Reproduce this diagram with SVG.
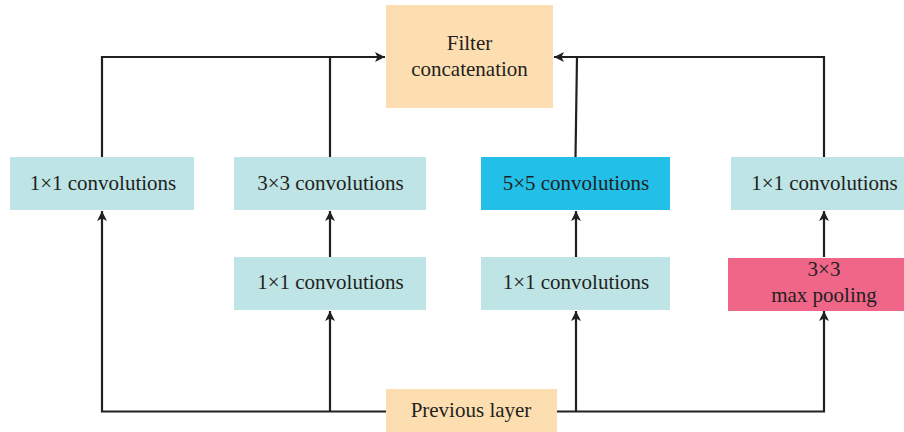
<svg xmlns="http://www.w3.org/2000/svg" width="904" height="432" viewBox="0 0 904 432">
<style>
.lbl{font-family:"Liberation Serif","Times New Roman",serif;font-size:21px;fill:#231F20;text-anchor:middle}
.conv{fill:#BEE4E6}
.peach{fill:#FDDEB1}
.blue{fill:#22C0E9}
.pink{fill:#F06689}
.wire{fill:none;stroke:#231F20;stroke-width:2.2}
</style>
<defs>
<marker id="ah" viewBox="0 0 10 10" refX="10" refY="5" markerWidth="11" markerHeight="10" markerUnits="userSpaceOnUse" orient="auto">
<path d="M0,0 L10,5 L0,10 L2.5,5 z" fill="#231F20"/>
</marker>
</defs>
<rect width="904" height="432" fill="#ffffff"/>
<g id="connectors">
<path class="wire" d="M102,157 V57 H385" marker-end="url(#ah)"/>
<path class="wire" d="M330,157 V57"/>
<path class="wire" d="M824,157 V57 H554" marker-end="url(#ah)"/>
<path class="wire" d="M575.5,157 L577,57"/>
<path class="wire" d="M386,411.5 H102 V211" marker-end="url(#ah)"/>
<path class="wire" d="M330,411.5 V311" marker-end="url(#ah)"/>
<path class="wire" d="M557,411.5 H824 V311" marker-end="url(#ah)"/>
<path class="wire" d="M576,411.5 V311" marker-end="url(#ah)"/>
<path class="wire" d="M330,257 V211" marker-end="url(#ah)"/>
<path class="wire" d="M576,257 V211" marker-end="url(#ah)"/>
<path class="wire" d="M824,257 V211" marker-end="url(#ah)"/>
</g>
<g id="filter-concat">
<rect class="peach" x="386" y="5" width="167" height="103"/>
<text class="lbl" x="469.5" y="50">Filter</text>
<text class="lbl" x="469.5" y="76">concatenation</text>
</g>
<g id="conv1x1-a">
<rect class="conv" x="10" y="157" width="184" height="53"/>
<text class="lbl" x="103" y="190">1×1 convolutions</text>
</g>
<g id="conv3x3">
<rect class="conv" x="234" y="157" width="192" height="53"/>
<text class="lbl" x="330.5" y="190">3×3 convolutions</text>
</g>
<g id="conv5x5">
<rect class="blue" x="481" y="157" width="189" height="53"/>
<text class="lbl" x="576" y="190">5×5 convolutions</text>
</g>
<g id="conv1x1-d">
<rect class="conv" x="731" y="157" width="173" height="53"/>
<text class="lbl" x="824.5" y="190">1×1 convolutions</text>
</g>
<g id="conv1x1-b">
<rect class="conv" x="234" y="257" width="192" height="53"/>
<text class="lbl" x="330.5" y="289">1×1 convolutions</text>
</g>
<g id="conv1x1-c">
<rect class="conv" x="481" y="257" width="189" height="53"/>
<text class="lbl" x="576" y="289">1×1 convolutions</text>
</g>
<g id="maxpool">
<rect class="pink" x="728" y="258" width="176" height="53"/>
<text class="lbl" x="824" y="276">3×3</text>
<text class="lbl" x="824" y="302">max pooling</text>
</g>
<g id="previous-layer">
<rect class="peach" x="386" y="389" width="171" height="43"/>
<text class="lbl" x="471" y="417">Previous layer</text>
</g>
</svg>
